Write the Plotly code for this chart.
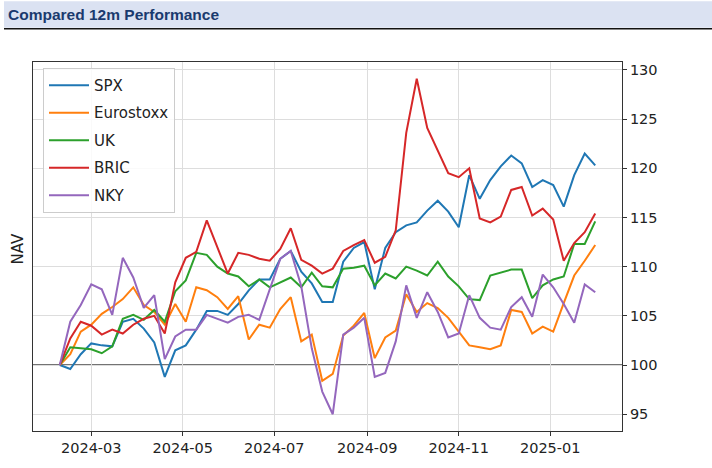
import pandas as pd
import plotly.graph_objects as go

# Weekly observations
dates = pd.date_range("2024-02-09", periods=52, freq="7D")

spx = [100, 99.6, 101.1, 102.2, 102.0, 101.9, 104.4, 104.7, 103.7, 102.3,
       98.8, 101.5, 102.0, 103.6, 105.5, 105.5, 105.1, 106.2, 107.6, 108.7,
       108.7, 110.8, 111.6, 109.5, 108.3, 106.4, 106.4, 110.5, 111.9, 112.5,
       107.7, 111.9, 113.5, 114.2, 114.5, 115.7, 116.7, 115.6, 114.0, 119.3,
       116.9, 118.8, 120.2, 121.3, 120.5, 118.1, 118.8, 118.3, 116.1, 119.3,
       121.5, 120.3]

eurostoxx = [100, 101.1, 103.4, 104.1, 105.2, 105.9, 106.7, 107.9, 106.1, 105.4,
             104.1, 106.2, 104.4, 107.9, 107.6, 106.9, 105.7, 107.0, 102.6, 104.1,
             103.8, 105.7, 106.9, 102.4, 103.1, 98.4, 99.1, 103.0, 104.0, 105.3,
             100.7, 102.8, 103.5, 107.2, 105.4, 106.3, 105.8, 104.8, 103.4, 102.0,
             101.8, 101.6, 102.0, 105.6, 105.4, 103.2, 103.9, 103.4, 106.3, 109.1,
             110.6, 112.2]

uk = [100, 101.8, 101.7, 101.6, 101.2, 101.9, 104.7, 105.1, 104.6, 105.6,
      104.4, 107.5, 108.6, 111.4, 111.2, 110.0, 109.3, 109.0, 108.0, 108.7,
      107.9, 108.4, 108.9, 107.9, 109.4, 108.0, 107.9, 109.8, 109.9, 110.1,
      108.1, 109.3, 108.8, 110.0, 109.6, 109.1, 110.5, 109.0, 108.0, 106.7,
      106.6, 109.1, 109.4, 109.7, 109.7, 106.8, 108.1, 108.7, 109.0, 112.3,
      112.3, 114.6]

bric = [100, 102.7, 104.4, 104.0, 103.1, 103.6, 103.2, 104.1, 104.7, 105.0,
        103.2, 108.4, 110.9, 111.5, 114.7, 112.0, 109.3, 111.4, 111.2, 110.8,
        110.6, 111.8, 113.9, 110.7, 110.1, 109.3, 109.8, 111.6, 112.2, 112.7,
        110.4, 111.0, 113.7, 123.6, 129.1, 124.1, 121.8, 119.5, 119.1, 120.0,
        114.9, 114.5, 115.1, 117.8, 118.1, 115.2, 115.9, 114.8, 110.6, 112.4,
        113.5, 115.4]

nky = [100, 104.4, 106.1, 108.2, 107.7, 105.1, 110.9, 108.9, 105.8, 107.1,
       100.6, 102.9, 103.6, 103.6, 105.1, 104.7, 104.3, 104.9, 105.1, 104.6,
       107.7, 110.8, 111.6, 108.0, 101.7, 97.3, 95.0, 103.1, 103.8, 104.8,
       98.8, 99.2, 102.4, 108.1, 104.8, 107.4, 105.4, 102.8, 103.2, 107.1,
       104.8, 103.8, 103.6, 105.9, 106.9, 104.9, 109.2, 107.9, 106.2, 104.3,
       108.2, 107.4]

names = ["SPX", "Eurostoxx", "UK", "BRIC", "NKY"]
values = [spx, eurostoxx, uk, bric, nky]
colors = ["#1f77b4", "#ff7f0e", "#2ca02c", "#d62728", "#9467bd"]

FONT = "DejaVu Sans"

fig = go.Figure()
for name, vals, col in zip(names, values, colors):
    fig.add_trace(go.Scatter(x=dates, y=vals, mode="lines", name=name,
                             legendgroup=name,
                             line=dict(color=col, width=2)))

span = dates[-1] - dates[0]
x_range = [(dates[0] - span * 0.05).isoformat(), (dates[-1] + span * 0.05).isoformat()]
all_vals = [v for s in values for v in s]
lo, hi = min(all_vals), max(all_vals)
pad = (hi - lo) * 0.05
y_range = [lo - pad, hi + pad]

# paper-coordinate helpers for the header band (plot area: x 33..622, y 62..438 px)
L, R, T, B = 33, 622, 62, 438
def px(xp):
    return (xp - L) / (R - L)
def py(yp):
    return (B - yp) / (B - T)

fig.update_layout(
    width=712, height=468,
    margin=dict(l=L, r=712 - R, t=T, b=468 - B),
    paper_bgcolor="white", plot_bgcolor="white",
    font=dict(family=FONT, color="#222222"),
    showlegend=True,
    legend=dict(x=px(43), y=py(68), xanchor="left", yanchor="top",
                bgcolor="rgba(255,255,255,0.85)", bordercolor="#cccccc",
                borderwidth=1, font=dict(size=15, family=FONT, color="#222222"),
                tracegroupgap=5, itemwidth=40),
    xaxis=dict(type="date", range=x_range, tick0="2024-03-01", dtick="M2",
               tickformat="%Y-%m", showgrid=True, gridcolor="#dddddd",
               showline=True, mirror=True, linecolor="#333333", linewidth=1,
               ticks="outside", ticklen=4, tickcolor="#333333",
               tickfont=dict(size=14.5, family=FONT, color="#222222"),
               zeroline=False),
    yaxis=dict(side="right", range=y_range, tick0=95, dtick=5,
               showgrid=True, gridcolor="#dddddd",
               showline=True, mirror=True, linecolor="#333333", linewidth=1,
               ticks="outside", ticklen=4, tickcolor="#333333",
               tickfont=dict(size=14.5, family=FONT, color="#222222"),
               zeroline=False),
    shapes=[
        dict(type="rect", xref="paper", yref="paper",
             x0=px(4), x1=px(712), y0=py(27), y1=py(0),
             fillcolor="#dbe2f2", line=dict(width=0), layer="below"),
        dict(type="line", xref="paper", yref="paper",
             x0=px(4), x1=px(712), y0=py(28), y1=py(28),
             line=dict(color="#111111", width=1.5)),
        dict(type="line", xref="paper", yref="y",
             x0=0, x1=1, y0=100, y1=100,
             line=dict(color="#444444", width=1.5), layer="below"),
    ],
    annotations=[
        dict(text="<b>Compared 12m Performance</b>", xref="paper", yref="paper",
             x=px(6), y=py(14), xanchor="left", yanchor="middle", showarrow=False,
             font=dict(family="Liberation Sans", size=15.5, color="#1a3a6e")),
        dict(text="NAV", xref="paper", yref="paper", x=px(18), y=py(252),
             xanchor="center", yanchor="middle", textangle=-90, showarrow=False,
             font=dict(family=FONT, size=15, color="#222222")),
    ],
)

fig.write_html("out.html", config={"displayModeBar": False},
               post_script="document.body.style.margin='0';document.body.style.padding='0';")
